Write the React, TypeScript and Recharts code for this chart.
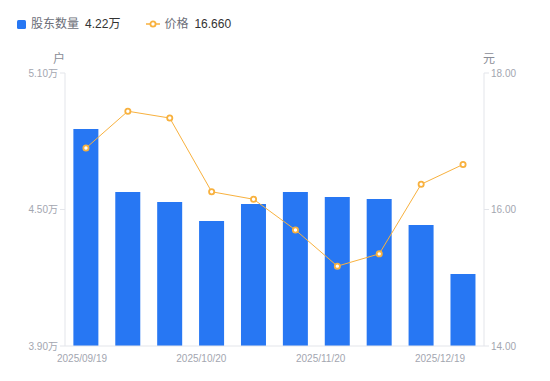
import React from 'react';
import { ComposedChart, Bar, Line, XAxis, YAxis } from 'recharts';

const categories = ['2025/09/19', '2025/09/30', '2025/10/10', '2025/10/20', '2025/10/31', '2025/11/10', '2025/11/20', '2025/11/28', '2025/12/10', '2025/12/19'];
const holders = [4.854, 4.577, 4.533, 4.449, 4.524, 4.577, 4.555, 4.546, 4.432, 4.216];
const prices = [16.90, 17.44, 17.34, 16.26, 16.15, 15.70, 15.17, 15.35, 16.37, 16.66];
const dateLabels = ['2025/09/19', '2025/10/20', '2025/11/20', '2025/12/19'];
const leftTicks = [3.9, 4.5, 5.1];
const rightTicks = [14, 16, 18];

const data = categories.map((c, i) => ({ date: c, idx: i, holders: holders[i], price: prices[i] }));
const labelTicks = dateLabels.map((_, i) => i * 3);

const BLUE = '#2777f3';
const ORANGE = '#f8b13e';
const TICK = '#a3a6b0';
const AXIS = '#e3e5ea';
const FONT = '"Liberation Sans", "Noto Sans CJK SC", sans-serif';

export default function App() {
  return (
    <div style={{ position: 'relative', width: 550, height: 381, margin: '-8px 0 0 -8px', fontFamily: FONT, background: '#fff' }}>
      <div style={{ position: 'absolute', left: 17, top: 16, display: 'flex', alignItems: 'center', fontSize: 12, lineHeight: '16px' }}>
        <span style={{ width: 9, height: 9, background: BLUE, borderRadius: 1.5, display: 'inline-block' }} />
        <span style={{ color: '#6b6e78', marginLeft: 5 }}>股东数量</span>
        <span style={{ color: '#333', marginLeft: 6 }}>{holders[holders.length - 1].toFixed(2)}万</span>
        <svg width={14} height={10} style={{ marginLeft: 26 }}>
          <line x1={0} y1={5} x2={14} y2={5} stroke={ORANGE} strokeWidth={1.5} />
          <circle cx={7} cy={5} r={2.6} fill="#fff" stroke={ORANGE} strokeWidth={1.8} />
        </svg>
        <span style={{ color: '#6b6e78', marginLeft: 4 }}>价格</span>
        <span style={{ color: '#333', marginLeft: 6 }}>{prices[prices.length - 1].toFixed(3)}</span>
      </div>
      <div style={{ position: 'absolute', left: 53, top: 49, fontSize: 12, color: '#8a8d96' }}>户</div>
      <div style={{ position: 'absolute', left: 483, top: 49, fontSize: 12, color: '#8a8d96' }}>元</div>
      <ComposedChart width={550} height={381} data={data} margin={{ top: 73, right: 0, bottom: 5, left: 0 }} barCategoryGap="20%">
        <XAxis xAxisId="cat" dataKey="date" hide height={0} />
        <XAxis
          xAxisId="lbl"
          dataKey="idx"
          type="number"
          domain={[0, 9]}
          allowDataOverflow
          ticks={labelTicks}
          tickFormatter={(v: number) => dateLabels[Math.round(v / 3)]}
          height={30}
          padding={{ left: 17, right: 44 }}
          axisLine={{ stroke: AXIS }}
          tickLine={false}
          tick={{ fill: TICK, fontSize: 10, fontFamily: FONT }}
          tickMargin={3}
          interval={0}
        />
        <YAxis
          yAxisId="left"
          orientation="left"
          width={65}
          domain={[3.9, 5.1]}
          ticks={leftTicks}
          tickFormatter={(v: number) => `${v.toFixed(2)}万`}
          axisLine={{ stroke: AXIS }}
          tickLine={{ stroke: AXIS }}
          tickSize={5}
          tickMargin={2}
          tick={{ fill: TICK, fontSize: 10, fontFamily: FONT }}
          allowDataOverflow
        />
        <YAxis
          yAxisId="right"
          orientation="right"
          width={66}
          domain={[14, 18]}
          ticks={rightTicks}
          tickFormatter={(v: number) => v.toFixed(2)}
          axisLine={{ stroke: AXIS }}
          tickLine={{ stroke: AXIS }}
          tickSize={5}
          tickMargin={2}
          tick={{ fill: TICK, fontSize: 10, fontFamily: FONT }}
          allowDataOverflow
        />
        <Bar xAxisId="cat" yAxisId="left" dataKey="holders" fill={BLUE} isAnimationActive={false} />
        <Line
          xAxisId="cat"
          yAxisId="right"
          dataKey="price"
          stroke={ORANGE}
          strokeWidth={1}
          dot={{ r: 2.6, fill: '#fff', stroke: ORANGE, strokeWidth: 1.8 }}
          activeDot={false}
          isAnimationActive={false}
        />
      </ComposedChart>
    </div>
  );
}
